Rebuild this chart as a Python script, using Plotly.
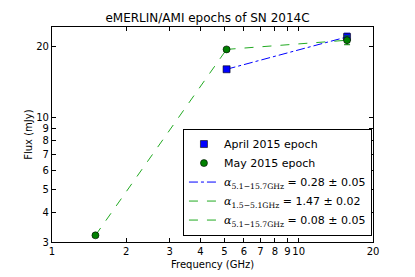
import numpy as np
import plotly.graph_objects as go

# Data
apr_freq = [5.1, 15.7]
apr_flux = [16.0, 21.9]
apr_err = [0.3, 0.8]

may_freq = [1.5, 5.1, 15.7]
may_flux = [3.2, 19.4, 21.2]
may_err = [0.05, 0.3, 0.9]

x_ticks = [1, 2, 3, 4, 5, 6, 7, 8, 9, 10, 20]
y_ticks = [3, 4, 5, 6, 7, 8, 9, 10, 20]

SERIF = "font-family:'DejaVu Serif'"
legend_labels = [
    "April 2015 epoch",
    "May 2015 epoch",
    f"<i style=\"{SERIF}\">α</i><sub style=\"{SERIF}\">5.1−15.7GHz</sub> = 0.28 ± 0.05",
    f"<i style=\"{SERIF}\">α</i><sub style=\"{SERIF}\">1.5−5.1GHz</sub> = 1.47 ± 0.02",
    f"<i style=\"{SERIF}\">α</i><sub style=\"{SERIF}\">5.1−15.7GHz</sub> = 0.08 ± 0.05",
]

fig = go.Figure()

# fit lines
fig.add_trace(go.Scatter(x=apr_freq, y=apr_flux, mode="lines",
                         line=dict(color="#0000ff", dash="dashdot", width=1),
                         name=legend_labels[2], legendrank=3))
fig.add_trace(go.Scatter(x=may_freq[0:2], y=may_flux[0:2], mode="lines",
                         line=dict(color="#22aa22", dash="dash", width=1),
                         name=legend_labels[3], legendrank=4))
fig.add_trace(go.Scatter(x=may_freq[1:3], y=may_flux[1:3], mode="lines",
                         line=dict(color="#22aa22", dash="dash", width=1),
                         name=legend_labels[4], legendrank=5))

# data points
fig.add_trace(go.Scatter(x=apr_freq, y=apr_flux, mode="markers",
                         marker=dict(symbol="square", size=7, color="#0000ff",
                                     line=dict(color="black", width=0.6)),
                         error_y=dict(type="data", array=apr_err, color="#0000ff",
                                      thickness=1, width=3),
                         name=legend_labels[0], legendrank=1))
fig.add_trace(go.Scatter(x=may_freq, y=may_flux, mode="markers",
                         marker=dict(symbol="circle", size=7, color="#008000",
                                     line=dict(color="black", width=0.6)),
                         error_y=dict(type="data", array=may_err, color="#008000",
                                      thickness=1, width=3),
                         name=legend_labels[1], legendrank=2))

axis_common = dict(
    type="log", showgrid=False, zeroline=False, automargin=False,
    showline=True, linecolor="black", linewidth=1.2, mirror="allticks",
    ticks="inside", ticklen=4, tickcolor="black", tickangle=0,
    tickfont=dict(family="DejaVu Sans", size=10, color="black"),
)

fig.update_xaxes(**axis_common, range=[0, np.log10(20)],
                 tickvals=x_ticks, ticktext=[str(v) for v in x_ticks])
fig.update_yaxes(**axis_common, range=[np.log10(3), np.log10(24.1)],
                 tickvals=y_ticks, ticktext=[str(v) for v in y_ticks])

fig.add_annotation(text="Frequency (GHz)", xref="paper", yref="paper",
                   x=0.5, y=-0.103, yanchor="middle", showarrow=False,
                   font=dict(family="DejaVu Sans", size=10, color="black"))
fig.add_annotation(text="Flux (mJy)", xref="paper", yref="paper",
                   x=-0.074, y=0.5, xanchor="center", yanchor="middle",
                   textangle=-90, showarrow=False,
                   font=dict(family="DejaVu Sans", size=10, color="black"))

fig.update_layout(
    width=415, height=277,
    margin=dict(l=52, r=42, t=27, b=35),
    paper_bgcolor="white", plot_bgcolor="white",
    title=dict(text="eMERLIN/AMI epochs of SN 2014C", x=0.5, xanchor="center",
               y=0.935, yanchor="middle",
               font=dict(family="DejaVu Sans", size=12, color="black")),
    font=dict(family="DejaVu Sans", color="black"),
    legend=dict(x=0.408, y=0.03, xanchor="left", yanchor="bottom",
                bordercolor="black", borderwidth=1, bgcolor="white",
                font=dict(family="DejaVu Sans", size=11, color="black"),
                tracegroupgap=0, itemwidth=30),
    showlegend=True,
)

fig.write_html("out.html", config={"displayModeBar": False},
               post_script="document.body.style.margin='0';")
